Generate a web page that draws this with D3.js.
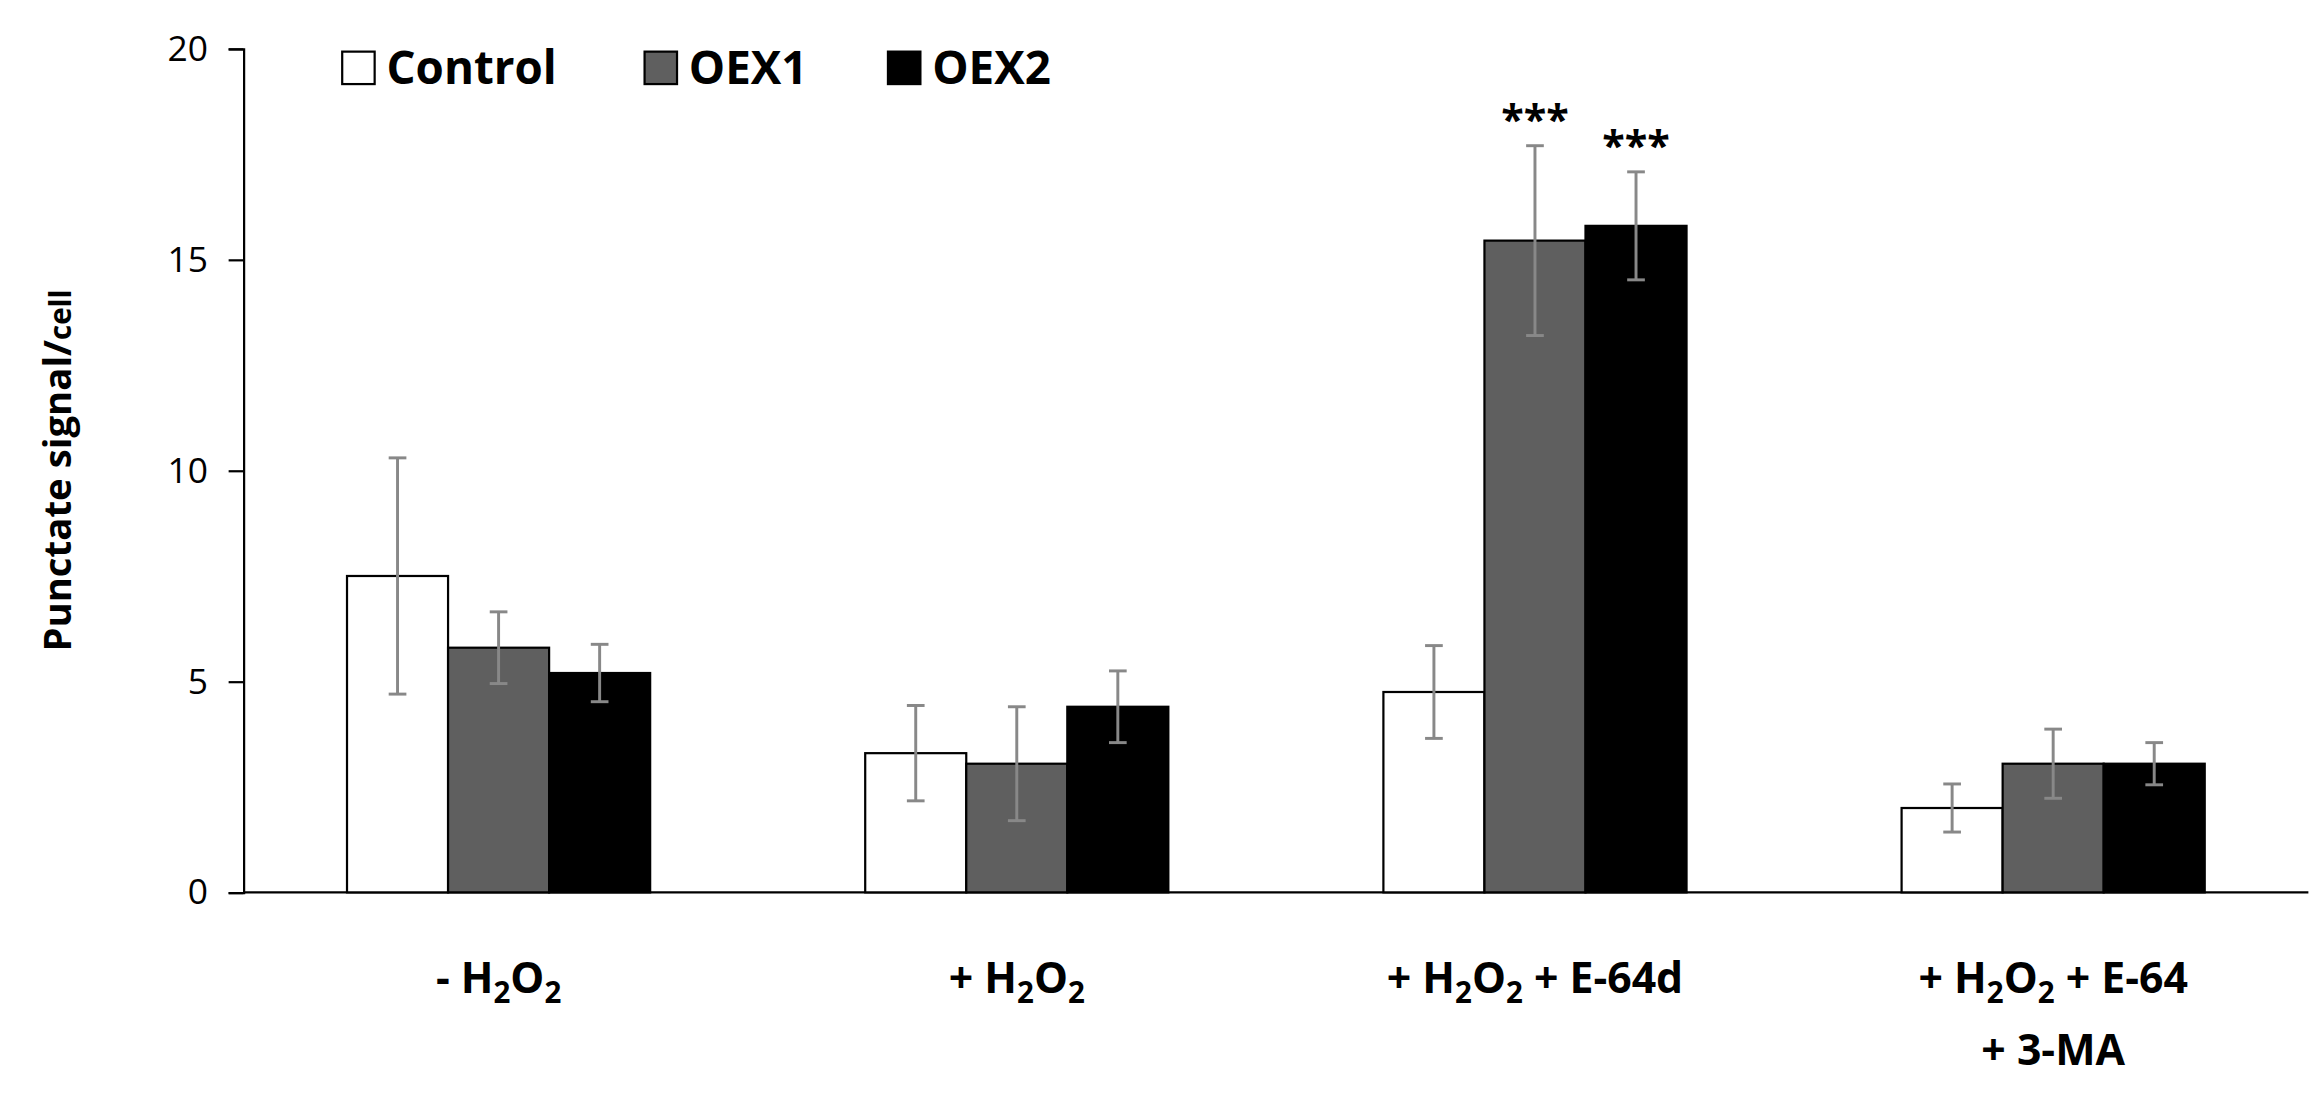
<!DOCTYPE html>
<html><head><meta charset="utf-8">
<script src="https://cdn.jsdelivr.net/npm/d3@7"></script>
<style>body{margin:0;background:#fff}text{font-family:"Open Sans",sans-serif}</style>
</head><body><svg id="c" width="2313" height="1107"></svg>
<script>
const categories=["-H2O2","+H2O2","+H2O2+E-64d","+H2O2+E-64+3-MA"];
const series=["Control","OEX1","OEX2"];
const colors=["#ffffff","#5f5f5f","#000000"];
const values=[[7.5,5.8,5.2],[3.3,3.05,4.4],[4.75,15.45,15.8],[2.0,3.05,3.05]];
const errors=[[2.8,0.85,0.68],[1.13,1.35,0.85],[1.1,2.25,1.28],[0.57,0.82,0.5]];
const stars=[[null,null,null],[null,null,null],[null,"***","***"],[null,null,null]];
const yTicks=[0,5,10,15,20];
const svg=d3.select("#c").append("g").attr("transform","scale(1.475)");
const L=165,R=1565,T=33,B=605;
const y=d3.scaleLinear().domain([0,20]).range([B,T]);
const x0=d3.scaleBand().domain(categories).range([L,R]).paddingInner(0.415).paddingOuter(0.2);
const x1=d3.scaleBand().domain(series).range([0,x0.bandwidth()]);
const yAx=svg.append("g").attr("transform",`translate(${L},0)`).call(d3.axisLeft(y).tickValues(yTicks).tickSize(10).tickPadding(14));
yAx.select(".domain").attr("stroke","#000").attr("stroke-width",1.5);
yAx.selectAll(".tick line").attr("stroke","#000").attr("stroke-width",1.5);
yAx.selectAll("text").attr("font-size",24).attr("fill","#000");
svg.append("line").attr("x1",L).attr("x2",R).attr("y1",B).attr("y2",B).attr("stroke","#000").attr("stroke-width",1.5);
categories.forEach((c,i)=>{
  const g=svg.append("g").attr("transform",`translate(${x0(c)},0)`);
  series.forEach((s,j)=>{
    const v=values[i][j],e=errors[i][j],bx=x1(s),bw=x1.bandwidth();
    g.append("rect").attr("x",bx).attr("width",bw).attr("y",y(v)).attr("height",B-y(v)).attr("fill",colors[j]).attr("stroke","#000").attr("stroke-width",1.5);
    const cx=bx+bw/2;
    g.append("line").attr("x1",cx).attr("x2",cx).attr("y1",y(v+e)).attr("y2",y(v-e)).attr("stroke","#888").attr("stroke-width",2);
    [v+e,v-e].forEach(t=>g.append("line").attr("x1",cx-6).attr("x2",cx+6).attr("y1",y(t)).attr("y2",y(t)).attr("stroke","#888").attr("stroke-width",2));
    if(stars[i][j]) g.append("text").attr("x",cx).attr("y",y(v+e)-8).attr("text-anchor","middle").attr("font-size",28).attr("font-weight","bold").text(stars[i][j]);
  });
});
function lab(xc,yy,parts){
  const t=svg.append("text").attr("x",xc).attr("y",yy).attr("text-anchor","middle").attr("font-size",29).attr("font-weight","bold");
  parts.forEach(p=>{const ts=t.append("tspan").text(p[0]);if(p[1]){ts.attr("font-size",20).attr("dy",7);}else ts.attr("dy",p[2]||0);});
}
const cx=c=>x0(c)+x0.bandwidth()/2;
lab(cx(categories[0]),673,[["- H"],["2",1],["O",0,-7],["2",1]]);
lab(cx(categories[1]),673,[["+ H"],["2",1],["O",0,-7],["2",1]]);
lab(cx(categories[2]),673,[["+ H"],["2",1],["O",0,-7],["2",1],[" + E-64d",0,-7]]);
lab(cx(categories[3]),673,[["+ H"],["2",1],["O",0,-7],["2",1],[" + E-64",0,-7]]);
svg.append("text").attr("x",cx(categories[3])).attr("y",722).attr("text-anchor","middle").attr("font-size",29).attr("font-weight","bold").text("+ 3-MA");
svg.append("text").attr("transform","translate(48,319) rotate(-90)").attr("text-anchor","middle").attr("font-size",26).attr("font-weight","bold")
  .call(t=>{t.append("tspan").text("Punctate signal/");t.append("tspan").attr("font-size",20).text("cell");});
const lx=[232,437,602];
series.forEach((s,j)=>{
  svg.append("rect").attr("x",lx[j]).attr("y",35).attr("width",22).attr("height",22).attr("fill",colors[j]).attr("stroke","#000").attr("stroke-width",1.5);
  svg.append("text").attr("x",lx[j]+30).attr("y",57).attr("font-size",31).attr("font-weight","bold").text(s);
});
</script></body></html>
